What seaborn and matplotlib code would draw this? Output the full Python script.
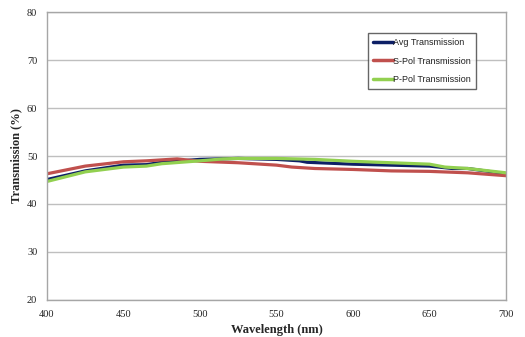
import numpy as np
import pandas as pd
import matplotlib
matplotlib.use("Agg")
import matplotlib.pyplot as plt
import seaborn as sns

# Data
wl_avg = [400, 425, 450, 465, 475, 500, 525, 550, 565, 570, 600, 625, 650, 665, 675, 700]
avg_t = [45.1, 46.9, 48.1, 48.2, 48.7, 49.3, 49.5, 49.3, 49.0, 48.7, 48.3, 48.1, 47.9, 47.4, 47.4, 46.3]

wl_s = [400, 425, 450, 465, 475, 485, 500, 525, 550, 560, 575, 600, 625, 650, 675, 700]
s_t = [46.3, 47.9, 48.8, 49.0, 49.2, 49.4, 48.9, 48.6, 48.1, 47.7, 47.4, 47.2, 46.9, 46.8, 46.5, 45.9]

wl_p = [400, 425, 450, 465, 475, 500, 515, 525, 550, 575, 600, 625, 650, 660, 675, 700]
p_t = [44.7, 46.7, 47.7, 47.9, 48.4, 49.0, 49.4, 49.5, 49.5, 49.3, 48.9, 48.6, 48.3, 47.7, 47.4, 46.5]

series_names = ["Avg Transmission", "S-Pol Transmission", "P-Pol Transmission"]
colors = ["#0D1F66", "#C0504D", "#92D050"]

df = pd.concat([
    pd.DataFrame({"wl": wl_avg, "t": avg_t, "series": series_names[0]}),
    pd.DataFrame({"wl": wl_s, "t": s_t, "series": series_names[1]}),
    pd.DataFrame({"wl": wl_p, "t": p_t, "series": series_names[2]}),
])

sns.set_theme(style="white")
fig = plt.figure(figsize=(5.25, 3.37), dpi=100)
ax = fig.add_axes([0.0895, 0.110, 0.8745, 0.854])

sns.lineplot(data=df, x="wl", y="t", hue="series", hue_order=series_names,
             palette=colors, linewidth=2.3, ax=ax, legend=True)

ax.set_xlim(400, 700)
ax.set_ylim(20, 80)
ax.set_xticks(np.arange(400, 701, 50))
ax.set_yticks(np.arange(20, 81, 10))
ax.grid(axis="y", color="#BFBFBF", linewidth=1)
ax.set_axisbelow(True)
for sp in ax.spines.values():
    sp.set_color("#A6A6A6")
    sp.set_linewidth(1)
ax.tick_params(axis="x", length=0, pad=7, labelsize=7.5, labelcolor="#222222")
ax.tick_params(axis="y", length=0, pad=7, labelsize=7.5, labelcolor="#222222")
for lab in ax.get_xticklabels() + ax.get_yticklabels():
    lab.set_family("Liberation Serif")

ax.set_xlabel("Wavelength (nm)", family="Liberation Serif", fontweight="bold", fontsize=9, labelpad=4)
ax.set_ylabel("Transmission (%)", family="Liberation Serif", fontweight="bold", fontsize=9, labelpad=3)

leg = ax.legend(loc="upper left", bbox_to_anchor=(0.699, 0.927), frameon=True, fancybox=False,
                prop={"family": "Liberation Sans", "size": 6.5}, handlelength=2.2, handletextpad=0.05,
                borderpad=0.55, labelspacing=1.05, borderaxespad=0)
leg.get_frame().set_edgecolor("#404040")
leg.get_frame().set_linewidth(1)
for h in leg.get_lines():
    h.set_linewidth(2.5)
for t in leg.get_texts():
    t.set_color("#222222")

fig.savefig("out.png", dpi=100)
